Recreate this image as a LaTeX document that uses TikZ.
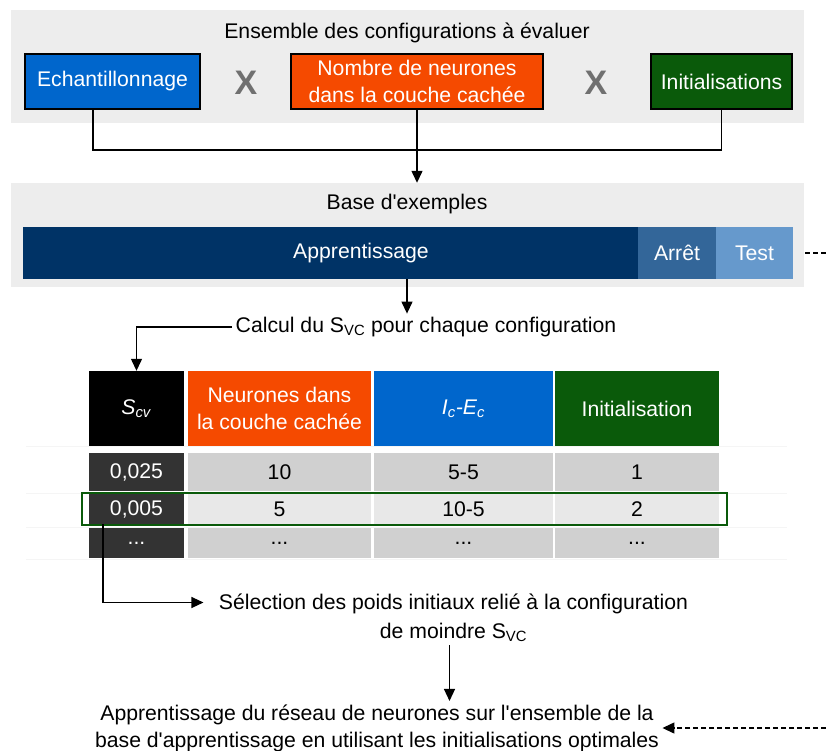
\documentclass[tikz,border=0pt]{standalone}
\usepackage{fontspec}
\setmainfont{Liberation Sans}
\usetikzlibrary{arrows.meta,calc}
\definecolor{bgpanel}{HTML}{EDEDED}
\definecolor{cblue}{HTML}{0066CC}
\definecolor{corange}{HTML}{F54A00}
\definecolor{cgreen}{HTML}{0A5A0A}
\definecolor{navy}{HTML}{003366}
\definecolor{midblue}{HTML}{336699}
\definecolor{lightblue}{HTML}{6699CC}
\definecolor{cellgray}{HTML}{D0D0D0}
\definecolor{celllight}{HTML}{E8E8E8}
\definecolor{celldark}{HTML}{333333}
\definecolor{xgray}{HTML}{707070}
\definecolor{faint}{HTML}{F5F5F5}
\begin{document}
\begin{tikzpicture}[x=1pt,y=-1pt,
  font=\fontsize{21.2}{27}\selectfont,
  panel/.style={fill=bgpanel, draw=none, inner sep=0},
  topbox/.style={draw=black, line width=2pt, text=white, inner sep=0, align=center},
  barcell/.style={inner sep=0, text=white, minimum height=52},
  cell/.style={inner sep=0, align=center},
  hcell/.style={cell, text=white, minimum height=75},
  conn/.style={line width=1.3pt},
  arr/.style={conn, -{Triangle[length=12pt,width=11pt]}},
  times/.style={text=xgray, font=\fontsize{34}{34}\selectfont\bfseries}]
\useasboundingbox (0,0) rectangle (826,751);
\fill[white] (0,0) rectangle (826,751);

% top panel
\node[panel, minimum width=793, minimum height=113] (p1) at (407.5,66.5) {};
\node (t1) at (407,33) {Ensemble des configurations à évaluer};
\node[topbox, fill=cblue, minimum width=175, minimum height=55] (ech) at (112.5,81.5) {Echantillonnage};
\node[times] (x1) at (246,83) {X};
\node[topbox, fill=corange, minimum width=252, minimum height=55] (nb) at (417,81.5) {Nombre de neurones\\dans la couche cachée};
\node[times] (x2) at (596,83) {X};
\node[topbox, fill=cgreen, minimum width=141, minimum height=55] (init) at (721.5,81.5) {Initialisations};

% second panel
\node[panel, minimum width=793, minimum height=104] (p2) at (407.5,235) {};
\node (t2) at (407,204) {Base d\textquotesingle exemples};
\node[barcell, fill=navy, minimum width=615] (appr) at (330.5,253) {\hspace*{61pt}Apprentissage};
\node[barcell, fill=midblue, minimum width=78] (arret) at (677,253) {Arrêt};
\node[barcell, fill=lightblue, minimum width=77] (test) at (754.5,253) {Test};

% connectors top
\coordinate (j) at (417,150);
\draw[conn] ([xshift=-19.5pt]ech.south) |- (j);
\draw[conn] (init.south) |- (j);
\draw[arr] (nb.south) -- (nb.south |- p2.north);

% calcul
\node (calc) at (426,327) {Calcul du S\textsubscript{VC} pour chaque configuration};
\draw[arr] ([xshift=76.5pt]appr.south) -- ([xshift=76.5pt]appr.south |- calc.north);

% faint row separators
\foreach \yy/\nm in {446/s1,493/s2,527/s3,559/s4}
  \draw[faint, line width=1pt] (26,\yy) coordinate (\nm a) -- (787,\yy) coordinate (\nm b);

% table header
\node[hcell, fill=black, minimum width=95] (h1) at (136.5,408.5) {\textit{S}\textsubscript{\textit{cv}}};
\node[hcell, fill=corange, minimum width=183] (h2) at (279.5,408.5) {Neurones dans\\la couche cachée};
\node[hcell, fill=cblue, minimum width=179] (h3) at (463.5,408.5) {\textit{I}\textsubscript{\textit{c}}\textit{-E}\textsubscript{\textit{c}}};
\node[hcell, fill=cgreen, minimum width=164] (h4) at (637,408.5) {Initialisation};
\draw[arr] (calc.west) -| (h1.north);

% rows
\node[cell, fill=celldark, text=white, minimum width=95, minimum height=38] (r1c1) at (136.5,472) {0,025};
\node[cell, fill=cellgray, minimum width=183, minimum height=38] (r1c2) at (279.5,472) {10};
\node[cell, fill=cellgray, minimum width=179, minimum height=38] (r1c3) at (463.5,472) {5-5};
\node[cell, fill=cellgray, minimum width=164, minimum height=38] (r1c4) at (637,472) {1};

\node[cell, fill=celldark, text=white, minimum width=95, minimum height=30] (r2c1) at (136.5,509) {0,005};
\node[cell, fill=celllight, minimum width=183, minimum height=30] (r2c2) at (279.5,509) {5};
\node[cell, fill=celllight, minimum width=179, minimum height=30] (r2c3) at (463.5,509) {10-5};
\node[cell, fill=celllight, minimum width=164, minimum height=30] (r2c4) at (637,509) {2};

\node[cell, fill=celldark, text=white, minimum width=95, minimum height=30] (r3c1) at (136.5,543) {...};
\node[cell, fill=cellgray, minimum width=183, minimum height=30] (r3c2) at (279.5,543) {...};
\node[cell, fill=cellgray, minimum width=179, minimum height=30] (r3c3) at (463.5,543) {...};
\node[cell, fill=cellgray, minimum width=164, minimum height=30] (r3c4) at (637,543) {...};

% highlight
\node[draw=cgreen, line width=1.6pt, inner sep=0, minimum width=645, minimum height=32] (hl) at (404.5,509) {};

% selection
\node[align=center, font=\fontsize{21.2}{29}\selectfont] (sel) at (453.5,617.5) {Sélection des poids initiaux relié à la configuration\\de moindre S\textsubscript{VC}};
\draw[arr] ([xshift=-33.5pt]r2c1.south) |- ([xshift=-12pt,yshift=15pt]sel.west);

% final
\node[align=center] (fin) at (377,728) {Apprentissage du réseau de neurones sur l\textquotesingle ensemble de la\\base d\textquotesingle apprentissage en utilisant les initialisations optimales};
\draw[arr] ([xshift=-4pt]sel.south) -- ([xshift=-4pt]sel.south |- fin.north);

% dashed return
\draw[conn, dash pattern=on 5pt off 3pt, -{Triangle[length=12pt,width=11pt]}] ([xshift=12pt]test.east) -- ++(45,0) |- (fin.east);
\end{tikzpicture}
\end{document}
